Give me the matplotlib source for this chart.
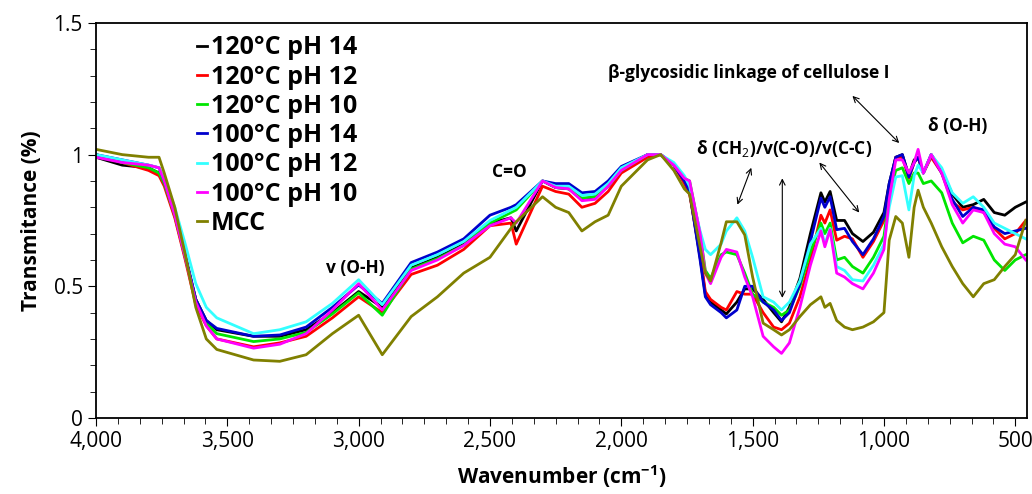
import matplotlib
matplotlib.use('Agg')
import matplotlib.pyplot as plt
from matplotlib.ticker import MultipleLocator, FuncFormatter

plt.rcParams['font.family'] = ['Open Sans', 'DejaVu Sans']
plt.rcParams['mathtext.fontset'] = 'custom'
plt.rcParams['mathtext.rm'] = 'Open Sans'
plt.rcParams['mathtext.bf'] = 'Open Sans:bold'

# wavenumber grid (cm-1) shared by all spectra
wavenumber = [4000, 3900, 3800, 3760, 3740, 3700, 3660, 3620, 3580, 3540,
              3400, 3300, 3200, 3100, 3000, 2910, 2800, 2700, 2600, 2500,
              2420, 2400, 2300, 2250, 2200, 2150, 2100, 2050, 2000, 1900,
              1850, 1800, 1760, 1740, 1700, 1680, 1660, 1620, 1600, 1560,
              1530, 1500, 1460, 1420, 1390, 1360, 1320, 1280, 1240, 1225,
              1205, 1180, 1150, 1120, 1080, 1040, 1000, 980, 955, 930,
              905, 885, 870, 850, 820, 780, 740, 700, 660, 620,
              580, 540, 500, 460]

t120_ph14 = [0.99, 0.96, 0.95, 0.93, 0.89, 0.77, 0.61, 0.45, 0.37, 0.335,
             0.31, 0.31, 0.335, 0.40, 0.48, 0.42, 0.57, 0.61, 0.66, 0.74,
             0.76, 0.71, 0.90, 0.875, 0.87, 0.83, 0.84, 0.88, 0.94, 1.00,
             1.00, 0.96, 0.90, 0.86, 0.61, 0.47, 0.44, 0.41, 0.395, 0.44,
             0.49, 0.49, 0.45, 0.40, 0.365, 0.42, 0.53, 0.70, 0.855, 0.82,
             0.86, 0.75, 0.75, 0.70, 0.67, 0.705, 0.78, 0.89, 0.99, 1.00,
             0.92, 0.98, 0.99, 0.93, 1.00, 0.94, 0.85, 0.80, 0.81, 0.83,
             0.78, 0.77, 0.80, 0.82]

t120_ph12 = [1.00, 0.97, 0.94, 0.92, 0.88, 0.76, 0.60, 0.43, 0.35, 0.30,
             0.27, 0.285, 0.31, 0.38, 0.46, 0.40, 0.545, 0.58, 0.64, 0.73,
             0.74, 0.66, 0.88, 0.86, 0.85, 0.80, 0.815, 0.86, 0.93, 0.99,
             1.00, 0.96, 0.89, 0.85, 0.62, 0.48, 0.45, 0.42, 0.41, 0.48,
             0.47, 0.47, 0.40, 0.345, 0.335, 0.36, 0.46, 0.60, 0.77, 0.74,
             0.79, 0.675, 0.69, 0.68, 0.61, 0.67, 0.75, 0.87, 0.99, 0.99,
             0.91, 0.97, 0.99, 0.93, 0.99, 0.93, 0.82, 0.79, 0.80, 0.78,
             0.72, 0.68, 0.70, 0.75]

t120_ph10 = [1.00, 0.97, 0.95, 0.93, 0.89, 0.77, 0.61, 0.45, 0.36, 0.32,
             0.29, 0.30, 0.325, 0.395, 0.475, 0.39, 0.565, 0.605, 0.655, 0.74,
             0.78, 0.79, 0.90, 0.875, 0.87, 0.835, 0.84, 0.88, 0.94, 1.00,
             1.00, 0.96, 0.91, 0.90, 0.70, 0.56, 0.53, 0.62, 0.63, 0.62,
             0.55, 0.47, 0.44, 0.42, 0.39, 0.41, 0.50, 0.63, 0.74, 0.70,
             0.74, 0.60, 0.61, 0.575, 0.55, 0.61, 0.69, 0.84, 0.94, 0.95,
             0.89, 0.93, 0.93, 0.89, 0.90, 0.855, 0.74, 0.665, 0.69, 0.675,
             0.60, 0.56, 0.60, 0.62]

t100_ph14 = [1.00, 0.98, 0.96, 0.95, 0.90, 0.78, 0.62, 0.45, 0.37, 0.34,
             0.31, 0.315, 0.345, 0.42, 0.505, 0.435, 0.59, 0.63, 0.68, 0.77,
             0.80, 0.81, 0.90, 0.89, 0.89, 0.855, 0.86, 0.90, 0.955, 1.00,
             1.00, 0.96, 0.90, 0.86, 0.60, 0.46, 0.43, 0.40, 0.38, 0.41,
             0.50, 0.50, 0.44, 0.41, 0.37, 0.40, 0.51, 0.67, 0.835, 0.80,
             0.84, 0.715, 0.72, 0.67, 0.62, 0.68, 0.765, 0.89, 0.99, 1.00,
             0.915, 0.97, 0.99, 0.93, 1.00, 0.93, 0.83, 0.765, 0.80, 0.79,
             0.725, 0.70, 0.71, 0.72]

t100_ph12 = [1.00, 0.98, 0.96, 0.95, 0.91, 0.80, 0.66, 0.51, 0.42, 0.38,
             0.32, 0.335, 0.365, 0.435, 0.525, 0.43, 0.58, 0.62, 0.67, 0.75,
             0.79, 0.80, 0.90, 0.88, 0.88, 0.845, 0.85, 0.89, 0.95, 1.00,
             1.00, 0.97, 0.92, 0.88, 0.71, 0.64, 0.62, 0.66, 0.71, 0.76,
             0.71, 0.61, 0.46, 0.44, 0.41, 0.44, 0.52, 0.66, 0.72, 0.66,
             0.72, 0.575, 0.56, 0.525, 0.52, 0.58, 0.66, 0.80, 0.915, 0.92,
             0.79, 0.92, 0.96, 0.93, 1.00, 0.95, 0.855, 0.815, 0.84, 0.80,
             0.74, 0.72, 0.70, 0.68]

t100_ph10 = [0.99, 0.97, 0.96, 0.95, 0.90, 0.77, 0.61, 0.44, 0.35, 0.30,
             0.265, 0.28, 0.32, 0.41, 0.51, 0.41, 0.56, 0.60, 0.655, 0.73,
             0.76, 0.74, 0.90, 0.875, 0.87, 0.825, 0.83, 0.88, 0.94, 1.00,
             1.00, 0.96, 0.91, 0.90, 0.70, 0.55, 0.51, 0.61, 0.64, 0.63,
             0.535, 0.46, 0.31, 0.27, 0.245, 0.285, 0.42, 0.58, 0.71, 0.65,
             0.715, 0.55, 0.535, 0.51, 0.49, 0.55, 0.64, 0.83, 0.98, 0.98,
             0.93, 0.97, 1.02, 0.93, 1.00, 0.93, 0.81, 0.74, 0.79, 0.78,
             0.70, 0.66, 0.65, 0.60]

mcc = [1.02, 1.00, 0.99, 0.99, 0.93, 0.80, 0.62, 0.42, 0.30, 0.26,
       0.22, 0.215, 0.24, 0.32, 0.39, 0.24, 0.385, 0.46, 0.55, 0.61,
       0.72, 0.745, 0.84, 0.80, 0.78, 0.71, 0.745, 0.77, 0.88, 0.98,
       1.00, 0.94, 0.87, 0.85, 0.65, 0.55, 0.52, 0.665, 0.745, 0.745,
       0.695, 0.535, 0.36, 0.335, 0.315, 0.335, 0.385, 0.43, 0.46, 0.42,
       0.435, 0.37, 0.345, 0.335, 0.345, 0.365, 0.40, 0.675, 0.765, 0.74,
       0.61, 0.80, 0.865, 0.80, 0.74, 0.65, 0.575, 0.51, 0.46, 0.51,
       0.525, 0.575, 0.62, 0.75]

labels = ['120°C pH 14', '120°C pH 12', '120°C pH 10',
          '100°C pH 14', '100°C pH 12', '100°C pH 10', 'MCC']
colors = ['#000000', '#ff0000', '#00e600', '#0000cc', '#33ffff', '#ff00ff', '#808000']
series = [t120_ph14, t120_ph12, t120_ph10, t100_ph14, t100_ph12, t100_ph10, mcc]

fig = plt.figure(figsize=(10.32, 4.94), dpi=100)
ax = fig.add_axes([0.093, 0.154, 0.902, 0.7995])

for vals, lab, c in zip(series, labels, colors):
    ax.plot(wavenumber, vals, color=c, lw=2, label=lab)

ax.set_xlim(4000, 456)
ax.set_ylim(0, 1.5)
ax.xaxis.set_major_locator(MultipleLocator(500))
ax.xaxis.set_minor_locator(MultipleLocator(500 / 6))
ax.yaxis.set_major_locator(MultipleLocator(0.5))
ax.yaxis.set_minor_locator(MultipleLocator(0.1))
ax.xaxis.set_major_formatter(FuncFormatter(lambda v, p: f'{int(round(v)):,}'))
ax.yaxis.set_major_formatter(FuncFormatter(lambda v, p: f'{v:g}'))
ax.tick_params(which='major', length=6, labelsize=15, direction='out')
ax.tick_params(which='minor', length=4, direction='out')
for s in ax.spines.values():
    s.set_linewidth(1.3)

ax.set_xlabel('Wavenumber (cm$^{\\mathbf{-1}}$)', fontsize=15, fontweight='bold', labelpad=8)
ax.set_ylabel('Transmitance (%)', fontsize=15, fontweight='bold', labelpad=8)

leg = ax.legend(loc='upper left', bbox_to_anchor=(0.095, 1.0), frameon=False,
                prop={'size': 18, 'weight': 'bold'}, handlelength=0.4,
                handletextpad=0.15, labelspacing=0.17, borderaxespad=0.1)

# band annotations
ann = dict(fontsize=12.5, fontweight='bold', ha='center', va='center')
ax.text(3011, 0.57, 'v (O-H)', **ann)
ax.text(2425, 0.935, 'C=O', **ann)
ax.text(1513, 1.31, 'β-glycosidic linkage of cellulose I', **ann)
ax.text(721, 1.11, 'δ (O-H)', **ann)
ax.text(1379, 1.025, 'δ (CH$_2$)/v(C-O)/v(C-C)', **ann)

arr = dict(arrowstyle='<->', color='black', lw=0.8, shrinkA=0, shrinkB=0)
ax.annotate('', xy=(1558, 0.81), xytext=(1505, 0.95), arrowprops=arr)
ax.annotate('', xy=(1387, 0.456), xytext=(1387, 0.91), arrowprops=arr)
ax.annotate('', xy=(1094, 0.78), xytext=(1246, 0.97), arrowprops=arr)
ax.annotate('', xy=(942, 1.044), xytext=(1120, 1.223), arrowprops=arr)

fig.savefig('out.png', dpi=100)
